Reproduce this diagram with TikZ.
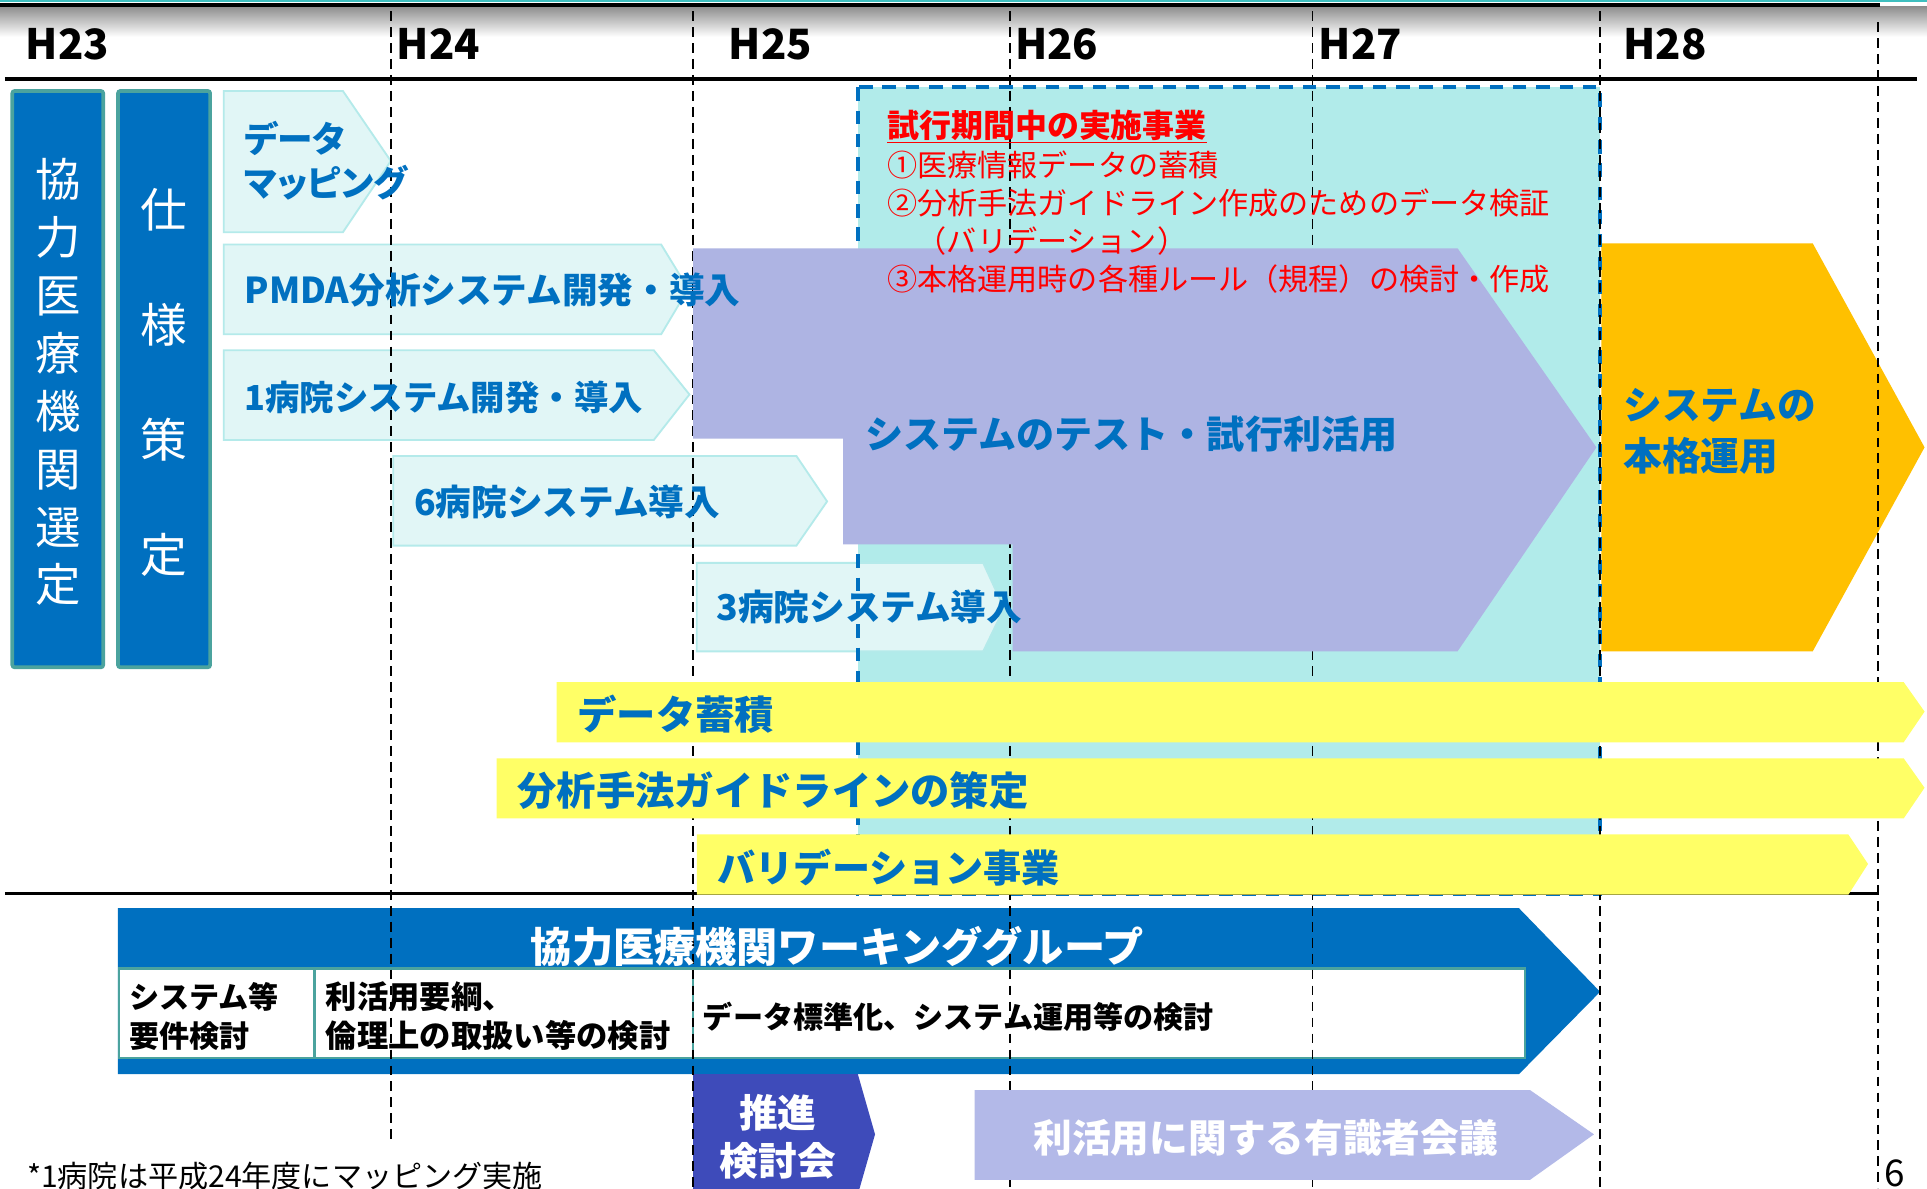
\documentclass[tikz,border=0pt]{standalone}
\usepackage{fontspec}
\setmainfont{Noto Sans CJK JP}
\newfontfamily\pfont{Noto Sans CJK JP}[RawFeature=+palt]
\definecolor{wblue}{HTML}{0070C0}
\definecolor{boxedge}{HTML}{4BA39E}
\definecolor{lcyan}{HTML}{E1F6F6}
\definecolor{lcyanedge}{HTML}{B4EAEA}
\definecolor{trial}{HTML}{B1EBEA}
\definecolor{purp}{HTML}{AEB4E3}
\definecolor{orng}{HTML}{FFC000}
\definecolor{yel}{HTML}{FFFF66}
\definecolor{dblue}{HTML}{3E4BBA}
\definecolor{lpurp}{HTML}{B3B9E8}
\definecolor{topteal}{HTML}{3FBFBF}
\definecolor{redtxt}{HTML}{FF0000}
\begin{document}
\begin{tikzpicture}[x=1pt,y=-1pt,
  every node/.style={inner sep=0pt, outer sep=0pt},
  yr/.style={anchor=west, font=\fontsize{34}{34}\selectfont\bfseries},
  btxt/.style={anchor=west, text=wblue, font=\fontsize{#1}{#1}\selectfont\bfseries},
  rtxt/.style={anchor=west, text=redtxt, font=\fontsize{24.5}{24.5}\selectfont},
  wtxt/.style={anchor=west, text=white, font=\fontsize{#1}{#1}\selectfont\bfseries},
  ktxt/.style={anchor=west, text=black, align=left, font=\fontsize{24.5}{32}\selectfont\bfseries},
  lightarrow/.style={fill=lcyan, draw=lcyanedge, line width=1.5pt},
  lbox/.style={fill=wblue, draw=boxedge, line width=3pt, rounded corners=2pt},
  tbl/.style={fill=white, draw=boxedge, line width=2pt},
  trialedge/.style={draw=wblue, line width=3.4pt, dash pattern=on 11pt off 8pt},
  vdash/.style={draw=black, line width=1.4pt, dash pattern=on 8pt off 5pt},
  hline/.style={draw=black, line width=3pt}
]
\clip (0,0) rectangle (1568,967);
\fill[white] (0,0) rectangle (1568,967);
% header
\shade[top color=black!45, bottom color=white] (0,5) rectangle (1568,30);
\fill[topteal] (0,0) rectangle (1568,1.8);
\fill[black] (0,2.6) rectangle (1530,5.4);
% trial period region
\fill[trial] (698,71) rectangle (1302,727);
% light cyan arrows
\path[lightarrow] (182,74) -- (279,74) -- (318,131) -- (279,189) -- (182,189) -- cycle;
\path[lightarrow] (182,199) -- (538,199) -- (560,235) -- (538,272) -- (182,272) -- cycle;
\path[lightarrow] (182,285) -- (532,285) -- (561,321) -- (532,358) -- (182,358) -- cycle;
\path[lightarrow] (320,371) -- (648,371) -- (673,408) -- (648,444) -- (320,444) -- cycle;
\path[lightarrow] (567,458) -- (800,458) -- (817,495) -- (800,530) -- (567,530) -- cycle;
% left boxes
\draw[lbox] (10,74) rectangle (84,543);
\draw[lbox] (96,74) rectangle (171,543);
% orange arrow
\fill[orng] (1303,198) -- (1475,198) -- (1566,364) -- (1475,530) -- (1303,530) -- cycle;
% working group band
\fill[wblue] (96,739) -- (1236,739) -- (1302,807) -- (1236,874) -- (96,874) -- cycle;
\draw[tbl] (97,788) rectangle (1241,861);
\draw[tbl] (256,788) -- (256,861) (564,788) -- (564,861);
% suishin
\fill[dblue] (564,874) -- (698,874) -- (712,923) -- (698,972) -- (564,972) -- cycle;
% trial border
\draw[trialedge] (698,71) rectangle (1302,727);
% dashed year lines
\foreach \x in {564,822,1068,1302} \draw[vdash] (\x,9) -- (\x,967);
\draw[vdash] (318,9) -- (318,929);
\draw[vdash] (1528,18) -- (1528,967);
% horizontal rules
\draw[hline] (4,64.5) -- (1560,64.5);
\draw[hline] (4,727) -- (1528,727);
% big purple arrow
\fill[purp] (564,202) -- (1186,202) -- (1299,364) -- (1186,530) -- (824,530) -- (824,443) -- (686,443) -- (686,357) -- (564,357) -- cycle;
% yellow arrows
\fill[yel] (453,555) -- (1549,555) -- (1566,579) -- (1549,604) -- (453,604) -- cycle;
\fill[yel] (404,617) -- (1549,617) -- (1566,641) -- (1549,666) -- (404,666) -- cycle;
\fill[yel] (567,679) -- (1504,679) -- (1520,703) -- (1504,728) -- (567,728) -- cycle;
% expert meeting arrow
\fill[lpurp] (793,887) -- (1245,887) -- (1297,923) -- (1245,960) -- (793,960) -- cycle;

% year labels
\node[yr] (h23) at (21,36) {H23};
\node[yr] (h24) at (323,36) {H24};
\node[yr] (h25) at (593,36) {H25};
\node[yr] (h26) at (826,36) {H26};
\node[yr] (h27) at (1073,36) {H27};
\node[yr] (h28) at (1321,36) {H28};
% vertical texts
\node[text=white, align=center, font=\fontsize{37}{47.1}\selectfont] (sentei) at (47,311)
  {協\\力\\医\\療\\機\\関\\選\\定};
\node[text=white, align=center, font=\fontsize{38}{93.5}\selectfont] (shiyou) at (133,311)
  {仕\\様\\策\\定};
% light arrow texts
\node[anchor=west, text=wblue, align=left, font=\fontsize{29}{36}\selectfont\bfseries\pfont] (mapping) at (199,131) {データ\\マッピング};
\node[btxt=29] (pmda) at (199,236) {PMDA分析システム開発・導入};
\node[btxt=28] (hosp1) at (199,323) {1病院システム開発・導入};
\node[btxt=29] (hosp6) at (337,408) {6病院システム導入};
\node[btxt=29] (hosp3) at (583,494) {3病院システム導入};
% red texts
\node[anchor=west, text=redtxt, font=\fontsize{26}{26}\selectfont\bfseries] (rtitle) at (722,103) {\underline{試行期間中の実施事業}};
\node[rtxt] (r1) at (722,134) {①医療情報データの蓄積};
\node[rtxt] (r2) at (722,165) {②分析手法ガイドライン作成のためのデータ検証};
\node[rtxt] (r2b) at (746,196) {（バリデーション）};
\node[rtxt] (r3) at (722,227) {③本格運用時の各種ルール（規程）の検討・作成};
% main arrow texts
\node[btxt=31] (trialtxt) at (704,353) {システムのテスト・試行利活用};
\node[anchor=west, text=wblue, align=left, font=\fontsize{31.5}{42}\selectfont\bfseries] (honkaku) at (1321,351) {システムの\\本格運用};
\node[btxt=32] (chikuseki) at (470,581) {データ蓄積};
\node[btxt=32] (guide) at (421,643) {分析手法ガイドラインの策定};
\node[btxt=31] (valid) at (584,706) {バリデーション事業};
% working group
\node[wtxt=33.5] (wg) at (432,770) {協力医療機関ワーキンググループ};
\node[ktxt] (c1) at (105,827) {システム等\\要件検討};
\node[ktxt, font=\fontsize{25.5}{32}\selectfont\bfseries] (c2) at (265,827) {利活用要綱、\\倫理上の取扱い等の検討};
\node[ktxt] (c3) at (572,827) {データ標準化、システム運用等の検討};
\node[text=white, align=center, font=\fontsize{31.5}{39}\selectfont\bfseries] (suishin) at (633,925) {推進\\検討会};
\node[wtxt=31.5] (expert) at (841,926) {利活用に関する有識者会議};
% footnote and page number
\node[anchor=west, font=\fontsize{24.5}{24.5}\selectfont] (foot) at (22,957) {*1病院は平成24年度にマッピング実施};
\node[anchor=west, font=\fontsize{30}{30}\selectfont] (pageno) at (1533,955) {6};
\end{tikzpicture}
\end{document}
